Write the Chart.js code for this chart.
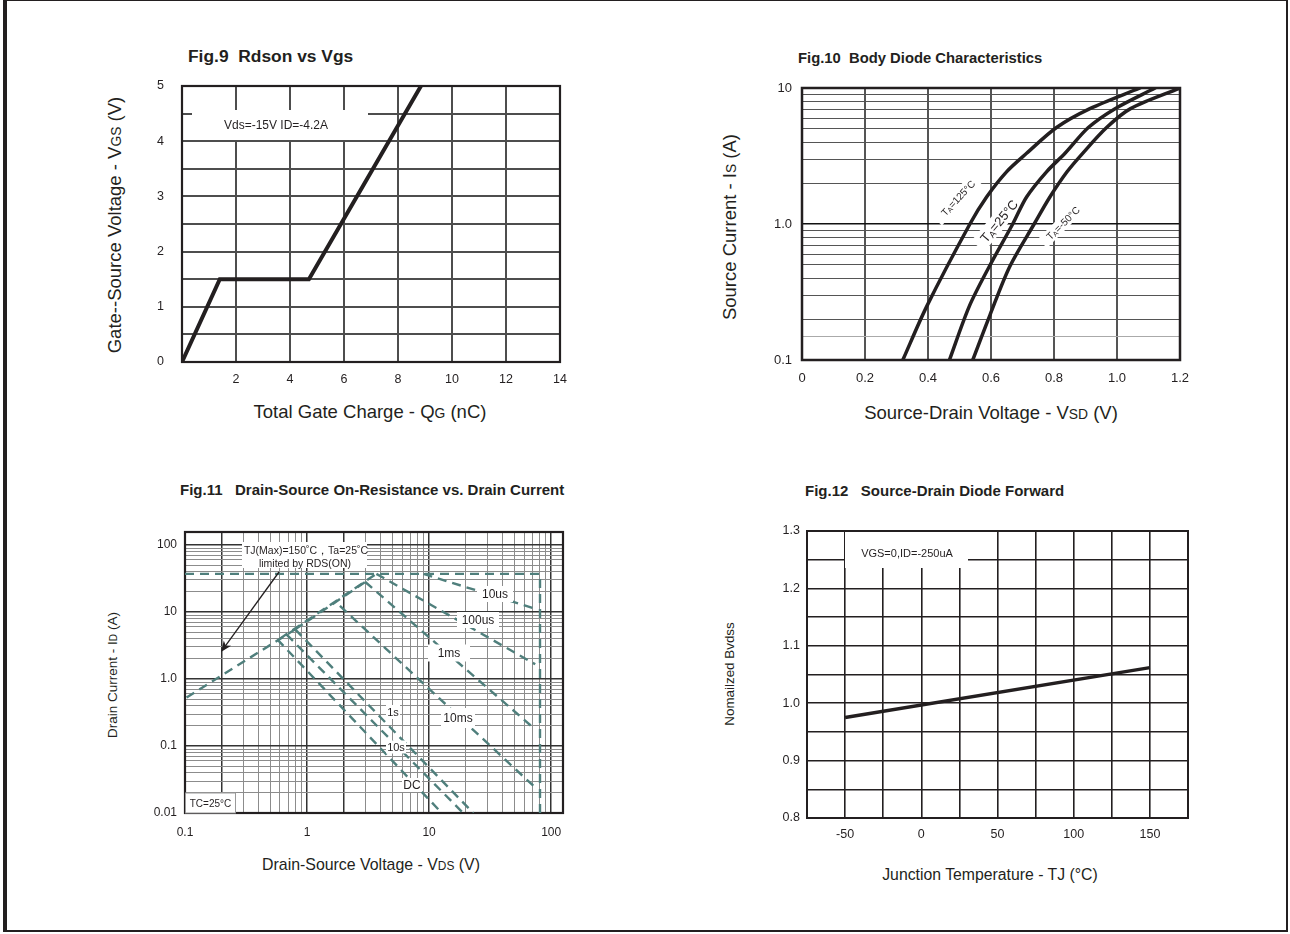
<!DOCTYPE html>
<html>
<head>
<meta charset="utf-8">
<script src="https://cdn.jsdelivr.net/npm/chart.js@4.4.1/dist/chart.umd.min.js"></script>
<style>
  body { margin: 0; width: 1290px; height: 934px; position: relative; background: #fff; overflow: hidden;
         font-family: 'Liberation Sans', Arial, Helvetica, sans-serif; color: #231f20; }
  #page { position: absolute; left: 3px; top: -1px; width: 1279px; height: 929px;
          border: 2px solid #231f20; border-left-width: 4px; }
  canvas { position: absolute; }
  .t  { position: absolute; white-space: nowrap; font-weight: bold; line-height: 1; transform: translate(0, -50%); }
  .ax { position: absolute; white-space: nowrap; line-height: 1; transform: translate(-50%, -50%); }
  .ay { position: absolute; white-space: nowrap; line-height: 1; transform: translate(-50%, -50%) rotate(-90deg); }
  .s  { font-size: 75%; }
</style>
</head>
<body>
<div id="page"></div>

<div class="t" style="left:188px;top:57px;font-size:17.4px">Fig.9&nbsp;&nbsp;Rdson vs Vgs</div>
<div class="t" style="left:798px;top:58px;font-size:14.8px">Fig.10&nbsp;&nbsp;Body Diode Characteristics</div>
<div class="t" style="left:180px;top:489px;font-size:15px">Fig.11&nbsp;&nbsp;&nbsp;Drain-Source On-Resistance vs. Drain Current</div>
<div class="t" style="left:805px;top:490px;font-size:15px">Fig.12&nbsp;&nbsp;&nbsp;Source-Drain Diode Forward</div>

<div class="ay" style="left:115px;top:225px;font-size:18.5px">Gate--Source Voltage - V<span class="s">GS</span> (V)</div>
<div class="ax" style="left:370px;top:412px;font-size:18.5px">Total Gate Charge - Q<span class="s">G</span> (nC)</div>
<div class="ay" style="left:730px;top:227px;font-size:18.5px">Source Current - I<span class="s">S</span> (A)</div>
<div class="ax" style="left:991px;top:413px;font-size:18.5px">Source-Drain Voltage - V<span class="s">SD</span> (V)</div>
<div class="ay" style="left:113px;top:675px;font-size:13.5px">Drain Current - I<span class="s">D</span> (A)</div>
<div class="ax" style="left:371px;top:865px;font-size:15.9px">Drain-Source Voltage - V<span class="s">DS</span> (V)</div>
<div class="ay" style="left:730px;top:674px;font-size:13.4px">Nomailzed Bvdss</div>
<div class="ax" style="left:990px;top:875px;font-size:15.8px">Junction Temperature - TJ (°C)</div>

<canvas id="c9"  width="450" height="330" style="left:130px;top:70px"></canvas>
<canvas id="c10" width="460" height="330" style="left:740px;top:70px"></canvas>
<canvas id="c11" width="450" height="340" style="left:130px;top:510px"></canvas>
<canvas id="c12" width="460" height="340" style="left:750px;top:510px"></canvas>

<script>
// Fig.9 gate charge
const qgTicks = [0, 2, 4, 6, 8, 10, 12, 14];
const qgLabels = ['', '2', '4', '6', '8', '10', '12', '14'];
const vgsTicks = [0, 0.5, 1, 1.5, 2, 2.5, 3, 3.5, 4, 4.5, 5];
const vgsLabels = ['0', '', '1', '', '2', '', '3', '', '4', '', '5'];
const qg = [0, 1.4, 4.7, 8.85];
const vgs = [0, 1.5, 1.5, 5];

// Fig.10 body diode
const vsdTicks = [0, 0.2, 0.4, 0.6, 0.8, 1.0, 1.2];
const vsdLabels = ['0', '0.2', '0.4', '0.6', '0.8', '1.0', '1.2'];
const isTicks = [0.1, 0.15, 0.2, 0.3, 0.4, 0.5, 0.6, 0.7, 0.8, 0.9, 1, 2, 3, 4, 5, 6, 7, 8, 9, 10];
const isLabels = ['0.1', '', '', '', '', '', '', '', '', '', '1.0', '', '', '', '', '', '', '', '', '10'];
const vsd125 = [0.320, 0.396, 0.533, 0.586, 0.650, 0.713, 0.808, 0.914, 1.073];
const is125 = [0.1, 0.248, 1.0, 1.58, 2.43, 3.31, 5.12, 7.05, 10];
const vsd25 = [0.468, 0.531, 0.595, 0.669, 0.713, 0.777, 0.835, 0.909, 0.994, 1.121];
const is25 = [0.1, 0.248, 0.489, 1.0, 1.58, 2.43, 3.31, 5.12, 7.05, 10];
const vsdM50 = [0.542, 0.597, 0.660, 0.737, 0.787, 0.842, 0.891, 0.967, 1.043, 1.2];
const isM50 = [0.1, 0.215, 0.489, 1.0, 1.58, 2.43, 3.31, 5.12, 7.05, 10];

// Fig.11 safe operating area
const vdsTicks = [0.1, 0.2, 0.3, 0.4, 0.5, 0.6, 0.7, 0.8, 0.9, 1, 2, 3, 4, 5, 6, 7, 8, 9,
                  10, 20, 30, 40, 50, 60, 70, 80, 90, 100];
const vdsLabels = ['0.1', '', '', '', '', '', '', '', '', '1', '', '', '', '', '', '', '', '',
                   '10', '', '', '', '', '', '', '', '', '100'];
const idTicks = [0.01, 0.02, 0.03, 0.04, 0.05, 0.06, 0.07, 0.08, 0.09, 0.1, 0.2, 0.3, 0.4, 0.5, 0.6, 0.7, 0.8, 0.9,
                 1, 2, 3, 4, 5, 6, 7, 8, 9, 10, 20, 30, 40, 50, 60, 70, 80, 90, 100];
const idLabels = ['0.01', '', '', '', '', '', '', '', '', '0.1', '', '', '', '', '', '', '', '',
                  '1.0', '', '', '', '', '', '', '', '', '10', '', '', '', '', '', '', '', '', '100'];
const limV = [0.1, 81, 81];      const limI = [37, 37, 0.01];
const rdsV = [0.103, 0.8];       const rdsI = [0.53, 5.5];
const rds2V = [0.6, 3.7];        const rds2I = [4.0, 37];
const rds3V = [0.8, 3.0];        const rds3I = [5.5, 28];
const us10V = [9, 76];           const us10I = [37, 11];
const us100V = [3.7, 74];        const us100I = [37, 1.66];
const ms1V = [3.0, 74];          const ms1I = [28, 0.177];
const ms10V = [1.86, 74];        const ms10I = [12.3, 0.024];
const s1V = [0.8, 23];           const s1I = [5.5, 0.01];
const s10V = [0.68, 19];         const s10I = [4.6, 0.01];
const dcV = [0.57, 12.7];        const dcI = [3.9, 0.01];

// Fig.12 breakdown voltage vs temperature
const tjTicks = [-75, -50, -25, 0, 25, 50, 75, 100, 125, 150, 175];
const tjLabels = ['', '-50', '', '0', '', '50', '', '100', '', '150', ''];
const bvTicks = [0.8, 0.85, 0.9, 0.95, 1.0, 1.05, 1.1, 1.15, 1.2, 1.25, 1.3];
const bvLabels = ['0.8', '', '0.9', '', '1.0', '', '1.1', '', '1.2', '', '1.3'];
const tj = [-50, 150];
const bv = [0.975, 1.062];

const INK = '#231f20';
const TEAL = '#4f7f7c';

Chart.defaults.font.family = "'Liberation Sans', Arial, Helvetica, sans-serif";
Chart.defaults.color = INK;
Chart.defaults.animation = false;
Chart.defaults.responsive = false;
Chart.defaults.devicePixelRatio = 1;
Chart.defaults.plugins.legend.display = false;
Chart.defaults.plugins.tooltip.enabled = false;
Chart.defaults.elements.point.radius = 0;

function pts(xs, ys) {
    return xs.map((x, i) => ({x: x, y: ys[i]}));
}

function axis(type, min, max, ticks, labels, o) {
    return {
        type: type, min: min, max: max,
        afterBuildTicks: s => { s.ticks = ticks.map(v => ({value: v})); },
        afterFit: s => {
            // plot area is set by layout padding only
            if (o.w) { s.width = o.w; s.paddingTop = 0; s.paddingBottom = 0; }
            if (o.h) { s.height = o.h; s.paddingLeft = 0; s.paddingRight = 0; }
        },
        border: {display: false},
        grid: {drawTicks: false, color: o.gc, lineWidth: o.gw},
        ticks: {autoSkip: false, maxRotation: 0, padding: o.pad, color: INK, font: {size: o.fs},
                callback: (v, i) => labels[i]}
    };
}

// text / box drawn inside the canvas, positions given in page pixels
function drawNote(chart, n) {
    const ctx = chart.ctx;
    ctx.save();
    ctx.translate(n.x - chart.canvas.offsetLeft, n.y - chart.canvas.offsetTop);
    if (n.rot) ctx.rotate(n.rot * Math.PI / 180);
    if (n.box) {
        ctx.fillStyle = '#fff';
        ctx.fillRect(-n.box[0] / 2, -n.box[1] / 2, n.box[0], n.box[1]);
        if (n.border) {
            ctx.strokeStyle = n.border;
            ctx.lineWidth = 1;
            ctx.strokeRect(-n.box[0] / 2, -n.box[1] / 2, n.box[0], n.box[1]);
        }
    }
    if (n.text) {
        const parts = typeof n.text === 'string' ? [[n.text, n.size]] : n.text;
        const family = Chart.defaults.font.family;
        let w = 0;
        parts.forEach(p => { ctx.font = p[1] + 'px ' + family; w += ctx.measureText(p[0]).width; });
        let x = -w / 2;
        ctx.fillStyle = INK;
        ctx.textBaseline = 'alphabetic';
        parts.forEach(p => {
            ctx.font = p[1] + 'px ' + family;
            ctx.fillText(p[0], x, n.size * 0.36 + (p[2] || 0));
            x += ctx.measureText(p[0]).width;
        });
    }
    ctx.restore();
}

const extras = {
    id: 'extras',
    beforeDatasetsDraw(chart, args, opts) {
        (opts.below || []).forEach(n => drawNote(chart, n));
        const a = chart.chartArea;
        const ctx = chart.ctx;
        ctx.save();
        ctx.strokeStyle = INK;
        ctx.lineWidth = opts.frame || 2;
        ctx.strokeRect(a.left, a.top, a.right - a.left, a.bottom - a.top);
        ctx.restore();
    },
    afterDatasetsDraw(chart, args, opts) {
        (opts.above || []).forEach(n => drawNote(chart, n));
        if (opts.arrow) {
            const ctx = chart.ctx;
            const ox = chart.canvas.offsetLeft, oy = chart.canvas.offsetTop;
            const [x1, y1, x2, y2] = opts.arrow;
            const ang = Math.atan2(y2 - y1, x2 - x1);
            ctx.save();
            ctx.strokeStyle = INK;
            ctx.fillStyle = INK;
            ctx.lineWidth = 1.3;
            ctx.beginPath();
            ctx.moveTo(x1 - ox, y1 - oy);
            ctx.lineTo(x2 - ox - 6 * Math.cos(ang), y2 - oy - 6 * Math.sin(ang));
            ctx.stroke();
            ctx.translate(x2 - ox, y2 - oy);
            ctx.rotate(ang);
            ctx.beginPath();
            ctx.moveTo(0, 0);
            ctx.lineTo(-11, -4.5);
            ctx.lineTo(-8, 0);
            ctx.lineTo(-11, 4.5);
            ctx.closePath();
            ctx.fill();
            ctx.restore();
        }
    }
};
Chart.register(extras);

/* Fig.9 */
new Chart(document.getElementById('c9'), {
    type: 'line',
    data: {
        datasets: [{data: pts(qg, vgs), borderColor: INK, borderWidth: 4, tension: 0, borderJoinStyle: 'miter'}]
    },
    options: {
        layout: {padding: {top: 16, right: 20, left: 0, bottom: 0}},
        scales: {
            x: axis('linear', 0, 14, qgTicks, qgLabels, {h: 38, gc: '#4d4d4d', gw: 2, pad: 10, fs: 12.5}),
            y: axis('linear', 0, 5, vgsTicks, vgsLabels, {w: 52, gc: '#4d4d4d', gw: 2, pad: 18, fs: 12.5})
        },
        plugins: {
            extras: {
                frame: 2.2,
                below: [
                    {x: 280, y: 125, box: [176, 30]},
                    {x: 276, y: 125, text: 'Vds=-15V ID=-4.2A', size: 12}
                ]
            }
        }
    }
});

/* Fig.10 */
const decadeGrid = [0.1, 1, 10];
function diode(xs, ys) {
    return {data: pts(xs, ys), borderColor: INK, borderWidth: 3.5, tension: 0.3, borderCapStyle: 'round'};
}
new Chart(document.getElementById('c10'), {
    type: 'line',
    data: {
        datasets: [diode(vsd125, is125), diode(vsd25, is25), diode(vsdM50, isM50)]
    },
    options: {
        layout: {padding: {top: 18, right: 20, left: 0, bottom: 0}},
        scales: {
            x: axis('linear', 0, 1.2, vsdTicks, vsdLabels, {h: 40, gc: '#555', gw: 2, pad: 11, fs: 13}),
            y: axis('logarithmic', 0.1, 10, isTicks, isLabels, {
                w: 62, pad: 10, fs: 13,
                gc: c => c.tick && decadeGrid.includes(c.tick.value) ? '#111' : (c.tick && c.tick.value === 0.15 ? '#aaa' : '#555'),
                gw: c => c.tick && decadeGrid.includes(c.tick.value) ? 1.6 : 1
            })
        },
        plugins: {
            extras: {
                frame: 2.5,
                below: [
                    {x: 958, y: 198, rot: -47, box: [62, 14], size: 10, text: [['T', 10], ['A', 7, 1], ['=125°C', 10]]},
                    {x: 999, y: 221, rot: -50, box: [66, 17], size: 13, text: [['T', 13], ['A', 9, 2], ['=25°C', 13]]},
                    {x: 1063, y: 223, rot: -45, box: [58, 13], size: 10, text: [['T', 10], ['A', 7, 1], ['=-50°C', 10]]}
                ]
            }
        }
    }
});

/* Fig.11 */
const darkV = [0.1, 0.2, 1, 2, 10, 100];
const darkI = [0.01, 0.1, 1, 10, 100];
function soa(xs, ys) {
    return {data: pts(xs, ys), borderColor: TEAL, borderWidth: 2.4, borderDash: [9, 6], tension: 0};
}
new Chart(document.getElementById('c11'), {
    type: 'line',
    data: {
        datasets: [
            soa(limV, limI), soa(rdsV, rdsI), soa(rds2V, rds2I), soa(rds3V, rds3I),
            soa(us10V, us10I), soa(us100V, us100I), soa(ms1V, ms1I), soa(ms10V, ms10I),
            soa(s1V, s1I), soa(s10V, s10I), soa(dcV, dcI)
        ]
    },
    options: {
        layout: {padding: {top: 22, right: 17, left: 0, bottom: 0}},
        scales: {
            x: axis('logarithmic', 0.1, 125, vdsTicks, vdsLabels, {
                h: 37, pad: 12, fs: 12,
                gc: c => c.tick && darkV.includes(c.tick.value) ? '#333' : '#8c8c8c',
                gw: c => c.tick && darkV.includes(c.tick.value) ? 1.5 : 1
            }),
            y: axis('logarithmic', 0.01, 156, idTicks, idLabels, {
                w: 55, pad: 8, fs: 12,
                gc: c => c.tick && darkI.includes(c.tick.value) ? '#333' : '#8c8c8c',
                gw: c => c.tick && darkI.includes(c.tick.value) ? 1.5 : 1
            })
        },
        plugins: {
            extras: {
                frame: 2.2,
                below: [
                    {x: 304.5, y: 555, box: [125, 26]},
                    {x: 306, y: 550, size: 10.5, text: 'TJ(Max)=150˚C，Ta=25˚C'},
                    {x: 305, y: 563, size: 10.5, text: 'limited by RDS(ON)'}
                ],
                above: [
                    {x: 495, y: 594, box: [36, 16], size: 12, text: '10us'},
                    {x: 478, y: 620, box: [42, 16], size: 12, text: '100us'},
                    {x: 449, y: 653, box: [42, 17], size: 12, text: '1ms'},
                    {x: 458, y: 718, box: [34, 20], size: 12, text: '10ms'},
                    {x: 393, y: 712, box: [14, 14], size: 11, text: '1s'},
                    {x: 396, y: 747, box: [20, 13], size: 11, text: '10s'},
                    {x: 412, y: 785, box: [20, 14], size: 12, text: 'DC'},
                    {x: 210.5, y: 803, box: [50, 20], border: '#9a9a9a', size: 10, text: 'TC=25°C'}
                ],
                arrow: [279, 572, 221, 652]
            }
        }
    }
});

/* Fig.12 */
new Chart(document.getElementById('c12'), {
    type: 'line',
    data: {
        datasets: [{data: pts(tj, bv), borderColor: INK, borderWidth: 3.5, tension: 0}]
    },
    options: {
        layout: {padding: {top: 21, right: 22, left: 0, bottom: 0}},
        scales: {
            x: axis('linear', -75, 175, tjTicks, tjLabels, {h: 32, gc: INK, gw: 1.6, pad: 9, fs: 12.5}),
            y: axis('linear', 0.8, 1.3, bvTicks, bvLabels, {w: 57, gc: INK, gw: 1.6, pad: 7, fs: 12.5})
        },
        plugins: {
            extras: {
                frame: 2,
                below: [
                    {x: 906.5, y: 550, box: [123, 36]},
                    {x: 907, y: 553, size: 11, text: 'VGS=0,ID=-250uA'}
                ]
            }
        }
    }
});
</script>
</body>
</html>
